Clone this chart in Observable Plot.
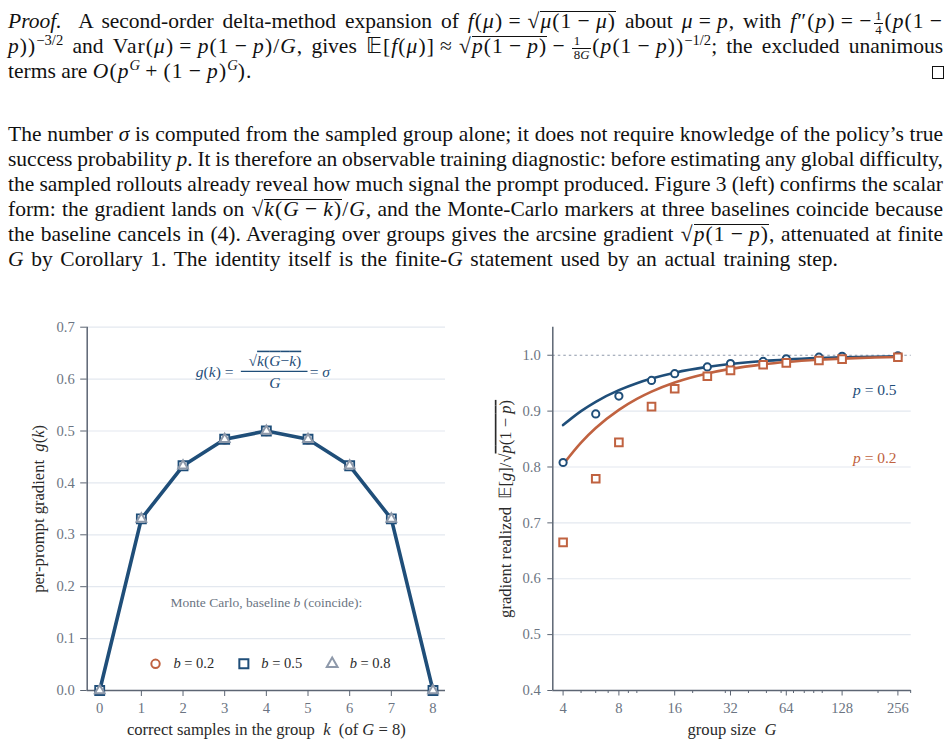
<!DOCTYPE html>
<html>
<head>
<meta charset="utf-8">
<script src="https://cdn.jsdelivr.net/npm/d3@7"></script>
<script src="https://cdn.jsdelivr.net/npm/@observablehq/plot@0.6"></script>
<style>
  html, body { margin: 0; padding: 0; background: #fff; }
  body { width: 951px; height: 745px; overflow: hidden; position: relative; font-family: "Liberation Serif", serif; color: #111; }
  .para { position: absolute; left: 8px; width: 935px; font-size: 21.5px; line-height: 25px; }
  .ln { height: 25px; text-align: justify; text-align-last: justify; white-space: nowrap; }
  .ln.nj { text-align-last: left; }
  .m { letter-spacing: .05em; }
  .op { margin: 0 .24em; }
  .sq { margin-left: .04em; }
  .rad { position: relative; }
  .rad::before { content: ""; position: absolute; left: 0; right: 0; top: 0.1em; border-top: 1px solid #111; }
  .fr { display: inline-block; vertical-align: -0.45em; font-size: .6em; line-height: 1.0; text-align: center; margin: 0 .1em; letter-spacing: 0; }
  .fr > span { display: block; padding: 0 .12em; }
  .fr > span:first-child { border-bottom: 1px solid #111; }
  .sp { font-size: .68em; position: relative; top: -.55em; line-height: 0; letter-spacing: 0; }
  .qed { position: absolute; left: 932px; top: 66px; width: 10px; height: 11px; border: 1px solid #111; }
  #left { position: absolute; left: 0; top: 316px; }
  #right { position: absolute; left: 480px; top: 316px; }
</style>
</head>
<body>
<div class="para" style="top:9.2px">
  <div class="ln"><i>Proof.</i>&nbsp; A second-order delta-method expansion of <span class="m"><i>f</i>(<i>μ</i>)<span class="op">=</span><span class="sq">√</span><span class="rad"><i>μ</i>(1<span class="op">−</span><i>μ</i>)</span></span> about <span class="m"><i>μ</i><span class="op">=</span><i>p</i></span>, with <span class="m"><i>f</i>″(<i>p</i>)<span class="op">=</span>−<span class="fr"><span>1</span><span>4</span></span>(<i>p</i>(1<span class="op" style="margin-right:0">−</span></span></div>
  <div class="ln"><span class="m"><i>p</i>))<span class="sp">−3/2</span></span> and <span class="m">Var(<i>μ</i>)<span class="op">=</span><i>p</i>(1<span class="op">−</span><i>p</i>)/<i>G</i></span>, gives <span class="m">𝔼[<i>f</i>(<i>μ</i>)]<span class="op">≈</span><span class="sq">√</span><span class="rad"><i>p</i>(1<span class="op">−</span><i>p</i>)</span><span class="op">−</span><span class="fr"><span>1</span><span>8<i>G</i></span></span>(<i>p</i>(1<span class="op">−</span><i>p</i>))<span class="sp">−1/2</span></span>; the excluded unanimous</div>
  <div class="ln nj">terms are <span class="m"><i>O</i>(<i>p</i><span class="sp"><i>G</i></span><span class="op">+</span>(1<span class="op">−</span><i>p</i>)<span class="sp"><i>G</i></span>)</span>.</div>
</div>
<div class="qed"></div>
<div class="para" style="top:121.6px">
  <div class="ln">The number <i>σ</i> is computed from the sampled group alone; it does not require knowledge of the policy’s true</div>
  <div class="ln">success probability <i>p</i>. It is therefore an observable training diagnostic: before estimating any global difficulty,</div>
  <div class="ln">the sampled rollouts already reveal how much signal the prompt produced. Figure 3 (left) confirms the scalar</div>
  <div class="ln">form: the gradient lands on <span class="m"><span class="sq">√</span><span class="rad"><i>k</i>(<i>G</i><span class="op">−</span><i>k</i>)</span>/<i>G</i></span>, and the Monte-Carlo markers at three baselines coincide because</div>
  <div class="ln">the baseline cancels in (4). Averaging over groups gives the arcsine gradient <span class="m"><span class="sq">√</span><span class="rad"><i>p</i>(1<span class="op">−</span><i>p</i>)</span></span>, attenuated at finite</div>
  <div class="ln nj" data-w="830"><i>G</i> by Corollary 1. The identity itself is the finite-<i>G</i> statement used by an actual training step.</div>
</div>
<div id="left"></div>
<div id="right"></div>
<script>
// ---------- data: left panel ----------
const kValues   = [0, 1, 2, 3, 4, 5, 6, 7, 8];
const gTheory   = [0, 0.3307, 0.4330, 0.4841, 0.5000, 0.4841, 0.4330, 0.3307, 0];
const mcB02     = [0, 0.3307, 0.4330, 0.4841, 0.5000, 0.4841, 0.4330, 0.3307, 0];
const mcB05     = [0, 0.3307, 0.4330, 0.4841, 0.5000, 0.4841, 0.4330, 0.3307, 0];
const mcB08     = [0, 0.3307, 0.4330, 0.4841, 0.5000, 0.4841, 0.4330, 0.3307, 0];
const yTicksLeft = [0, 0.1, 0.2, 0.3, 0.4, 0.5, 0.6, 0.7];
const legendLabels = ["b = 0.2", "b = 0.5", "b = 0.8"];

// ---------- data: right panel ----------
const groupSizes = [4, 6, 8, 12, 16, 24, 32, 48, 64, 96, 128, 256];
const mcP05      = [0.808, 0.895, 0.927, 0.955, 0.967, 0.979, 0.985, 0.989, 0.9935, 0.9965, 0.998, 0.999];
const mcP02      = [0.665, 0.779, 0.844, 0.908, 0.940, 0.9625, 0.973, 0.983, 0.9864, 0.9905, 0.993, 0.9965];
const curveSizes = [4, 5, 6, 8, 10, 12, 16, 24, 32, 48, 64, 96, 128, 192, 256];
const curveP05   = [0.875, 0.900, 0.9167, 0.9375, 0.950, 0.9583, 0.9688, 0.9792, 0.9844, 0.9896, 0.9922, 0.9948, 0.9961, 0.9974, 0.9980];
const curveP02   = [0.8047, 0.8438, 0.8698, 0.9023, 0.9219, 0.9349, 0.9512, 0.9674, 0.9756, 0.9837, 0.9878, 0.9919, 0.9939, 0.9959, 0.9969];
const xMajorTicks = [4, 8, 16, 32, 64, 128, 256];
const xMinorTicks = [5, 6, 7, 9, 10, 20, 30, 40, 50, 60, 70, 80, 90, 100, 200, 300];
const yTicksRight = [0.4, 0.5, 0.6, 0.7, 0.8, 0.9, 1.0];
const seriesLabels = ["p = 0.5", "p = 0.2"];

// ---------- style ----------
const blue = "#1f4e79", orange = "#c06240", triGray = "#8e99aa";
const tickGray = "#6b7482", axisGray = "#5c6573", gridCol = "#e3e8ef", labelCol = "#2a2a2a";
const font = "Liberation Serif, serif";
const tickFs = 14.6, labelFs = 16.6;

// ---------- fit prose lines (emulate TeX glue) ----------
document.querySelectorAll(".ln").forEach(ln => {
  const prev = ln.style.textAlignLast;
  ln.style.textAlignLast = "left";
  const r = document.createRange();
  r.selectNodeContents(ln);
  const w = r.getBoundingClientRect().width;
  const spaces = (ln.textContent.trim().match(/[ \u00a0]/g) || []).length || 1;
  if (ln.dataset.w) {
    ln.style.wordSpacing = ((+ln.dataset.w - w) / spaces) + "px";
  } else if (!ln.classList.contains("nj") && w > 935) {
    ln.style.wordSpacing = ((935 - w) / spaces - 0.05) + "px";
  }
  ln.style.textAlignLast = prev;
});

// ---------- rich text: *italic*, ~overline~ ----------
function richify(svg) {
  const ns = "http://www.w3.org/2000/svg";
  svg.querySelectorAll("text").forEach(t => {
    if (t.querySelector("tspan")) return;
    const s = t.textContent;
    if (!/[*~]/.test(s)) return;
    t.textContent = "";
    s.split("~").forEach((seg, i) => {
      let parent = t;
      if (i % 2 === 1) {
        const o = document.createElementNS(ns, "tspan");
        o.setAttribute("text-decoration", "overline");
        o.style.textDecoration = "overline";
        t.appendChild(o);
        parent = o;
      }
      seg.split("*").forEach((sub, j) => {
        if (!sub) return;
        const ts = document.createElementNS(ns, "tspan");
        if (j % 2 === 1) ts.setAttribute("font-style", "italic");
        ts.textContent = sub;
        parent.appendChild(ts);
      });
    });
  });
}
const eqSp = s => s.replace(/ = /g, "\u2005=\u2005");

// ---------- left panel ----------
const theoryRows = kValues.map((k, i) => ({k, g: gTheory[i]}));
const b02Rows = kValues.map((k, i) => ({k, g: mcB02[i]}));
const b05Rows = kValues.map((k, i) => ({k, g: mcB05[i]}));
const b08Rows = kValues.map((k, i) => ({k, g: mcB08[i]}));

// annotation anchors (data units)
const formulaLeft  = [{x: 3.21, y: 0.6143, text: "*g*(*k*)\u2005="}];
const formulaMid   = [{x: 4.205, y: 0.6355, text: "√~*k*(*G*−*k*)~"}, {x: 4.205, y: 0.5918, text: "*G*"}];
const formulaRight = [{x: 5.04, y: 0.6143, text: "=\u2005*σ*"}];
const fracBar      = [{x1: 3.40, x2: 5.0, y: 0.6148}];
const legendTitle  = [{x: 4, y: 0.170, text: "Monte Carlo, baseline *b* (coincide):"}];
const legendSym    = [{x: 1.34, y: 0.0514}, {x: 3.46, y: 0.0514}, {x: 5.58, y: 0.0514}];
const legendText   = legendLabels.map((t, i) => ({x: [1.77, 3.88, 6.0][i], y: 0.0514, text: eqSp(t.replace("b", "*b*"))}));

const leftPlot = Plot.plot({
  width: 470, height: 429,
  marginLeft: 86.7, marginRight: 25, marginTop: 10.7, marginBottom: 55,
  style: {fontFamily: font, fontSize: tickFs + "px", background: "transparent", overflow: "visible"},
  x: {domain: [-0.3, 8.3]},
  y: {domain: [0, 0.7]},
  marks: [
    Plot.ruleY(yTicksLeft.slice(1), {stroke: gridCol, strokeWidth: 1.2}),
    Plot.axisY(yTicksLeft, {tickSize: 6.5, tickPadding: 6, tickFormat: ".1f", label: null, fontSize: tickFs, fill: tickGray, stroke: axisGray}),
    Plot.axisX(kValues, {tickSize: 6, tickPadding: 6, label: null, fontSize: tickFs, fill: tickGray, stroke: axisGray}),
    Plot.ruleX([-0.3], {stroke: axisGray, strokeWidth: 1.5}),
    Plot.ruleY([0], {stroke: axisGray, strokeWidth: 1.5}),
    Plot.line(theoryRows, {x: "k", y: "g", stroke: blue, strokeWidth: 3.6}),
    Plot.dot(b02Rows, {x: "k", y: "g", symbol: "circle", r: 4.2, stroke: orange, strokeWidth: 2, fill: "white"}),
    Plot.dot(b05Rows, {x: "k", y: "g", symbol: "square", r: 5.1, stroke: blue, strokeWidth: 1.8, fill: "white"}),
    Plot.dot(b08Rows, {x: "k", y: "g", symbol: "triangle", r: 3.6, stroke: triGray, strokeWidth: 2, fill: "white"}),
    // formula
    Plot.text(formulaLeft, {x: "x", y: "y", text: "text", textAnchor: "end", fontSize: 15.5, fill: blue}),
    Plot.text(formulaMid, {x: "x", y: "y", text: "text", textAnchor: "middle", fontSize: 15.5, fill: blue}),
    Plot.text(formulaRight, {x: "x", y: "y", text: "text", textAnchor: "start", fontSize: 15.5, fill: blue}),
    Plot.ruleY(fracBar, {x1: "x1", x2: "x2", y: "y", stroke: blue, strokeWidth: 1.2}),
    // legend
    Plot.text(legendTitle, {x: "x", y: "y", text: "text", fontSize: 13.5, fill: tickGray}),
    Plot.dot([legendSym[0]], {x: "x", y: "y", symbol: "circle", r: 4.2, stroke: orange, strokeWidth: 2, fill: "white"}),
    Plot.dot([legendSym[1]], {x: "x", y: "y", symbol: "square", r: 5.1, stroke: blue, strokeWidth: 2, fill: "white"}),
    Plot.dot([legendSym[2]], {x: "x", y: "y", symbol: "triangle", r: 4.0, stroke: triGray, strokeWidth: 2, fill: "white"}),
    Plot.text(legendText, {x: "x", y: "y", text: "text", textAnchor: "start", fontSize: 14.5, fill: labelCol}),
    // axis labels
    Plot.text(["per-prompt gradient \u00a0*g*(*k*)"], {text: d => d, frameAnchor: "left", textAnchor: "middle", lineAnchor: "middle", dx: -48.4, rotate: -90, fontSize: labelFs, fill: labelCol}),
    Plot.text(["correct samples in the group \u00a0*k*\u00a0 (of *G*\u2005=\u20058)"], {text: d => d, frameAnchor: "bottom", textAnchor: "middle", lineAnchor: "middle", dy: 39.3, fontSize: labelFs, fill: labelCol})
  ]
});
richify(leftPlot);
document.getElementById("left").appendChild(leftPlot);

// ---------- right panel ----------
const mc05Rows = groupSizes.map((G, i) => ({G, v: mcP05[i]}));
const mc02Rows = groupSizes.map((G, i) => ({G, v: mcP02[i]}));
const c05Rows = curveSizes.map((G, i) => ({G, v: curveP05[i]}));
const c02Rows = curveSizes.map((G, i) => ({G, v: curveP02[i]}));
const seriesLabelRows = [
  {x: 252, y: 0.938, text: eqSp(seriesLabels[0].replace("p", "*p*")), c: blue},
  {x: 252, y: 0.8164, text: eqSp(seriesLabels[1].replace("p", "*p*")), c: orange}
];

const rightPlot = Plot.plot({
  width: 471, height: 429,
  marginLeft: 72.3, marginRight: 40.3, marginTop: 10.8, marginBottom: 55,
  style: {fontFamily: font, fontSize: tickFs + "px", background: "transparent", overflow: "visible"},
  x: {type: "log", base: 2, domain: [3.52, 302]},
  y: {domain: [0.4, 1.05]},
  marks: [
    Plot.ruleY(yTicksRight.filter(d => d > 0.4 && d < 1), {stroke: gridCol, strokeWidth: 1.2}),
    Plot.ruleY([1.0], {stroke: triGray, strokeDasharray: "2.5,3", strokeWidth: 1.2}),
    Plot.axisY(yTicksRight, {tickSize: 5, tickPadding: 7, tickFormat: ".1f", label: null, fontSize: tickFs, fill: tickGray, stroke: axisGray}),
    Plot.axisX(xMajorTicks, {tickSize: 5.5, tickPadding: 6.5, tickFormat: d => String(d), label: null, fontSize: tickFs, fill: tickGray, stroke: axisGray}),
    Plot.axisX(xMinorTicks, {tickSize: 3, tickFormat: () => "", label: null, stroke: axisGray}),
    Plot.ruleX([3.52], {stroke: axisGray, strokeWidth: 1.5}),
    Plot.ruleY([0.4], {stroke: axisGray, strokeWidth: 1.5}),
    Plot.line(c05Rows, {x: "G", y: "v", stroke: blue, strokeWidth: 2.6, curve: "monotone-x"}),
    Plot.line(c02Rows, {x: "G", y: "v", stroke: orange, strokeWidth: 2.6, curve: "monotone-x"}),
    Plot.dot(mc05Rows, {x: "G", y: "v", symbol: "circle", r: 3.6, stroke: blue, strokeWidth: 2, fill: "white"}),
    Plot.dot(mc02Rows, {x: "G", y: "v", symbol: "square", r: 4.3, stroke: orange, strokeWidth: 2, fill: "white"}),
    Plot.text(seriesLabelRows, {x: "x", y: "y", text: "text", fill: "c", textAnchor: "end", fontSize: 15.5}),
    Plot.text(["gradient realized \u00a0𝔼[*g*]/√~*p*(1\u2005−\u2005*p*)~"], {text: d => d, frameAnchor: "left", textAnchor: "middle", lineAnchor: "middle", dx: -47.3, rotate: -90, fontSize: labelFs, fill: labelCol}),
    Plot.text(["group size \u00a0*G*"], {text: d => d, frameAnchor: "bottom", textAnchor: "middle", lineAnchor: "middle", dy: 39.3, fontSize: labelFs, fill: labelCol})
  ]
});
richify(rightPlot);
document.getElementById("right").appendChild(rightPlot);
</script>
</body>
</html>
